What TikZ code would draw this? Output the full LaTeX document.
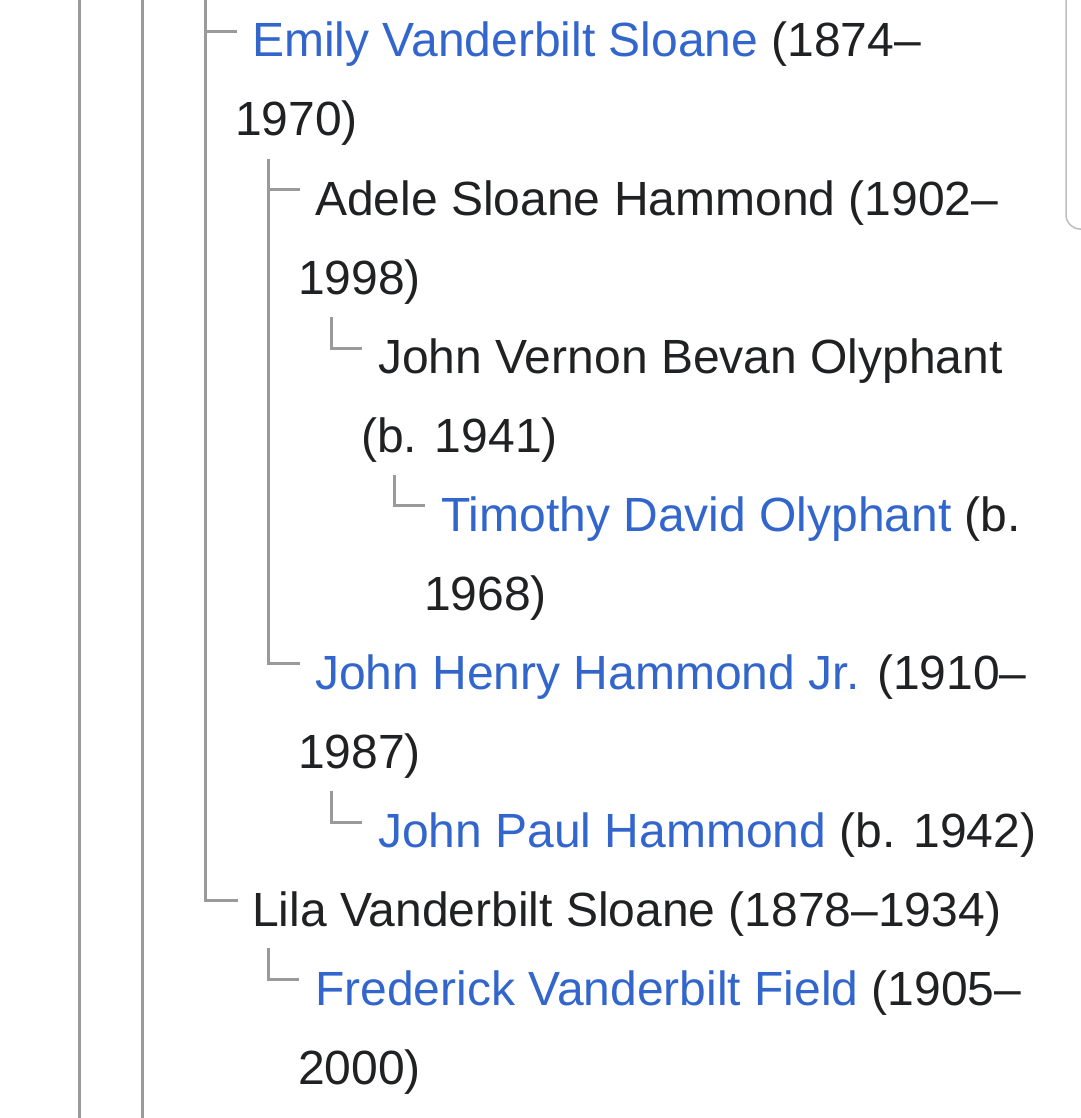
\documentclass[tikz,border=0pt]{standalone}
\usepackage{fontspec}
\setmainfont{Liberation Sans}
\definecolor{linkblue}{HTML}{3366CC}
\definecolor{textblack}{HTML}{202122}
\definecolor{treegray}{HTML}{9A9A9A}
\definecolor{boxgray}{HTML}{BDBDBD}
\begin{document}
\begin{tikzpicture}[x=1pt,y=-1pt,
  line/.style={anchor=base west, inner sep=0pt, text=textblack, font=\fontsize{48}{79}\selectfont},
  tree/.style={draw=treegray, line width=3pt, line cap=butt},
  lk/.style={}]
\newcommand{\lnk}[1]{\textcolor{linkblue}{#1}}
\useasboundingbox (0,0) rectangle (1080,1118);
\fill[white] (0,0) rectangle (1080,1118);

% text lines
\node[line] (emily)  at (252,57)   {\lnk{Emily Vanderbilt Sloane} (1874–};
\node[line] (emily2) at (235,136)  {1970)};
\node[line] (adele)  at (315,215)  {Adele Sloane Hammond (1902–};
\node[line] (adele2) at (298,294)  {1998)};
\node[line] (jvbo)   at (378,373)  {John Vernon Bevan Olyphant};
\node[line] (jvbo2)  at (361,452)  {(b. 1941)};
\node[line] (tdo)    at (441,531)  {\lnk{Timothy David Olyphant} (b.};
\node[line] (tdo2)   at (424,610)  {1968)};
\node[line] (jhh)    at (315,689)  {\lnk{John Henry Hammond Jr.} (1910–};
\node[line] (jhh2)   at (298,768)  {1987)};
\node[line] (jph)    at (378,847)  {\lnk{John Paul Hammond} (b. 1942)};
\node[line] (lila)   at (252,926)  {Lila Vanderbilt Sloane (1878–1934)};
\node[line] (fvf)    at (315,1005) {\lnk{Frederick Vanderbilt Field} (1905–};
\node[line] (fvf2)   at (298,1084) {2000)};

% tree coordinates
\coordinate (a1) at (79,0);   \coordinate (a2) at (79,1118);
\coordinate (b1) at (142,0);  \coordinate (b2) at (142,1118);
\coordinate (c1) at (205,0);
\coordinate (cEmily) at (237,32);
\coordinate (cLila) at (238,900);
\coordinate (d1) at (268,159);
\coordinate (dAdele) at (300,190);
\coordinate (dJhh) at (300,663);
\coordinate (e1) at (331,317);
\coordinate (eJvbo) at (362,348);
\coordinate (f1) at (394,475);
\coordinate (fTdo) at (425,505);
\coordinate (g1) at (331,791);
\coordinate (gJph) at (362,822);
\coordinate (h1) at (268,948);
\coordinate (hFvf) at (299,979);

\draw[tree] (a1) -- (a2);
\draw[tree] (b1) -- (b2);
\draw[tree] (c1) |- (cEmily);
\draw[tree] (c1) |- (cLila);
\draw[tree] (d1) |- (dAdele);
\draw[tree] (d1) |- (dJhh);
\draw[tree] (e1) |- (eJvbo);
\draw[tree] (f1) |- (fTdo);
\draw[tree] (g1) |- (gJph);
\draw[tree] (h1) |- (hFvf);

% box edge at top right
\coordinate (k1) at (1066,0);
\coordinate (k2) at (1081,229);
\draw[boxgray, line width=1.5pt, rounded corners=14pt] (k1) |- (k2);
\end{tikzpicture}
\end{document}
